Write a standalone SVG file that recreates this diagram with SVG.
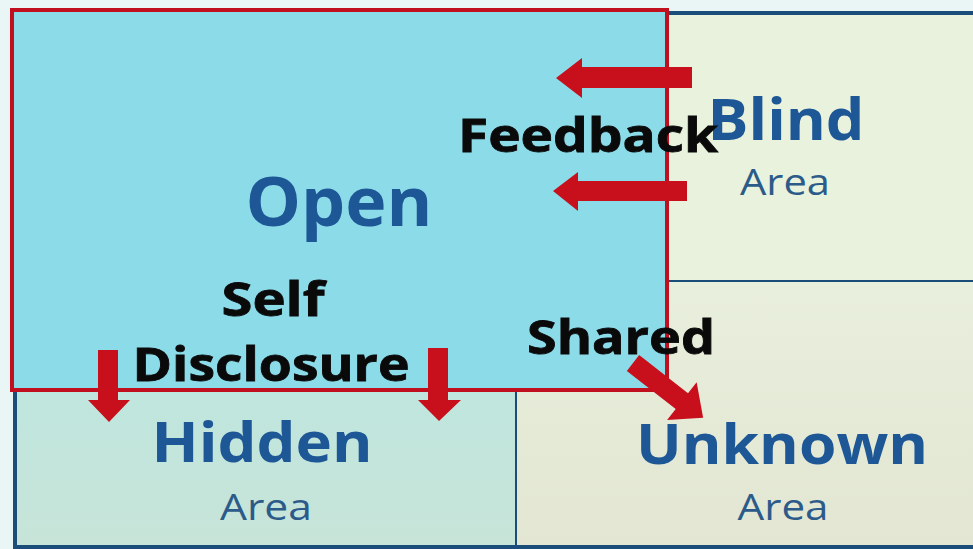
<svg xmlns="http://www.w3.org/2000/svg" width="973" height="549" viewBox="0 0 973 549">
<defs>
<style>
.big{font-family:"Open Sans","DejaVu Sans",sans-serif;font-weight:700;fill:#1d5796}
.area{font-family:"Open Sans","DejaVu Sans",sans-serif;font-weight:400;fill:#2c5b8a}
.lbl{font-family:"Open Sans","DejaVu Sans",sans-serif;font-weight:700;fill:#0a0a0a;stroke:#0a0a0a;stroke-width:0.8}
.nav{stroke:#1b4d7a;stroke-width:4;fill:none}
.arrow{fill:#c8101c}
</style>
<linearGradient id="gU" x1="0" y1="0" x2="0" y2="1">
<stop offset="0" stop-color="#e8efdc"/><stop offset="1" stop-color="#e2e6d2"/>
</linearGradient>
<linearGradient id="gH" x1="0" y1="0" x2="0" y2="1">
<stop offset="0" stop-color="#bfe6de"/><stop offset="1" stop-color="#c8e4d8"/>
</linearGradient>
</defs>
<rect x="0" y="0" width="973" height="549" fill="#eaf5f6"/>

<g id="blind">
<rect x="667" y="13" width="306" height="269" fill="#e8f2dc"/>
<line class="nav" x1="667" y1="13" x2="973" y2="13"/>
<line class="nav" x1="667" y1="282" x2="973" y2="282"/>
<text class="big" x="786" y="140" font-size="58" text-anchor="middle" textLength="157" lengthAdjust="spacingAndGlyphs">Blind</text>
<text class="area" x="785" y="195" font-size="36" text-anchor="middle" textLength="90" lengthAdjust="spacingAndGlyphs">Area</text>
</g>

<g id="unknown">
<rect x="515" y="282" width="458" height="267" fill="url(#gU)"/>
<line class="nav" x1="515" y1="388" x2="515" y2="549"/>
<line class="nav" x1="515" y1="547" x2="973" y2="547"/>
<text class="big" x="782" y="464" font-size="56" text-anchor="middle" textLength="292" lengthAdjust="spacingAndGlyphs">Unknown</text>
<text class="area" x="783" y="520" font-size="36" text-anchor="middle" textLength="91" lengthAdjust="spacingAndGlyphs">Area</text>
</g>

<g id="hidden">
<rect x="15" y="390" width="500" height="159" fill="url(#gH)"/>
<line class="nav" x1="15" y1="390" x2="15" y2="549"/>
<line class="nav" x1="15" y1="547" x2="515" y2="547"/>
<text class="big" x="262" y="462" font-size="56" text-anchor="middle" textLength="221" lengthAdjust="spacingAndGlyphs">Hidden</text>
<text class="area" x="266" y="520" font-size="36" text-anchor="middle" textLength="92" lengthAdjust="spacingAndGlyphs">Area</text>
</g>

<g id="open">
<rect x="12" y="10" width="655" height="380" fill="#8cdbe9" stroke="#c0101e" stroke-width="4"/>
<text class="big" x="339" y="226" font-size="68" text-anchor="middle" textLength="187" lengthAdjust="spacingAndGlyphs">Open</text>
</g>

<g id="connectors">
<polygon class="arrow" points="692,67 582,67 582,58 556,78 582,98 582,88 692,88"/>
<polygon class="arrow" points="687,181 578,181 578,172 553,191 578,211 578,201 687,201"/>
<polygon class="arrow" points="98,350 118,350 118,400 130,400 109,422 88,400 98,400"/>
<polygon class="arrow" points="428,348 448,348 448,400 461,400 439,421 418,400 428,400"/>
<polygon class="arrow" transform="translate(633,363) rotate(38)" points="0,-10 62,-10 62,-24 89,0 62,24 62,10 0,10"/>
<text class="lbl" x="588" y="152" font-size="46" text-anchor="middle" textLength="260" lengthAdjust="spacingAndGlyphs">Feedback</text>
<text class="lbl" x="273" y="316" font-size="46" text-anchor="middle" textLength="103" lengthAdjust="spacingAndGlyphs">Self</text>
<text class="lbl" x="271" y="381" font-size="46" text-anchor="middle" textLength="277" lengthAdjust="spacingAndGlyphs">Disclosure</text>
<text class="lbl" x="621" y="354" font-size="46" text-anchor="middle" textLength="188" lengthAdjust="spacingAndGlyphs">Shared</text>
</g>
</svg>
